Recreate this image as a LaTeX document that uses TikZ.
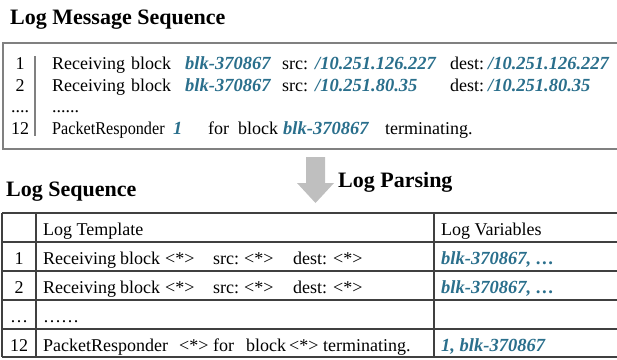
\documentclass[tikz,border=0pt]{standalone}
\usepackage{graphicx}
\usepackage{fontspec}
\setmainfont{Liberation Serif}
\definecolor{varblue}{RGB}{42,111,140}
\definecolor{boxgray}{RGB}{128,128,128}
\definecolor{arrowgray}{RGB}{191,191,191}
\definecolor{linegray}{RGB}{64,64,64}
\newcommand{\bodyfont}{\rmfamily\fontsize{18}{20}\selectfont}
\newcommand{\varfont}{\rmfamily\fontsize{18.5}{20}\selectfont\bfseries\itshape}
\newcommand{\headfont}{\rmfamily\fontsize{22}{24}\selectfont\bfseries}
\tikzset{
  txt/.style={font=\bodyfont,anchor=base west,inner sep=0pt},
  num/.style={font=\bodyfont,anchor=base,inner sep=0pt},
  var/.style={txt,font=\varfont,text=varblue},
  head/.style={font=\headfont,anchor=base west,inner sep=0pt},
}

\begin{document}
\begin{tikzpicture}[x=1pt,y=-1pt]
  \useasboundingbox (0,0) rectangle (617,359);

  % 标题
  \node[head] (title-msg) at (10,24) {Log Message Sequence};
  \node[head] (title-seq) at (6,196) {Log Sequence};
  \node[head] (title-parse) at (338,187) {Log Parsing};

  % 日志消息框 (右边界在图外)
  \draw[boxgray,line width=2.2pt] (617,43) -| (3,149) -- (617,149);
  \draw[boxgray,line width=2.5pt] (35,56) -- (35,136);

  % 日志消息 1, 2
  \foreach \r/\y/\ip in {1/69/126.227, 2/91/80.35} {
    \node[num] (m\r-no) at (20,\y) {\r};
    \node[txt] (m\r-recv) at (52,\y) {Receiving};
    \node[txt] (m\r-blk) at (131,\y) {block};
    \node[var] (m\r-id) at (185,\y) {blk-370867};
    \node[txt] (m\r-src) at (282,\y) {src:};
    \node[var] (m\r-srcip) at (315,\y) {/10.251.\ip};
    \node[txt] (m\r-dest) at (450,\y) {dest:};
    \node[var] (m\r-destip) at (488,\y) {/10.251.\ip};
  }
  \node[num] (m3-no) at (20,112) {....};
  \node[txt] (m3-dots) at (52,112) {......};
  % 日志消息 12
  \node[num] (m4-no) at (20,134) {12};
  \node[txt] (m4-pr) at (52,134) {\scalebox{0.9}[1]{PacketResponder}};
  \node[var] (m4-one) at (173,134) {1};
  \node[txt] (m4-for) at (208,134) {for};
  \node[txt] (m4-blk) at (238,134) {block};
  \node[var] (m4-id) at (283,134) {blk-370867};
  \node[txt] (m4-term) at (385,134) {terminating.};

  % 解析箭头
  \fill[arrowgray] (306,157) -- (325,157) -- (325,183) -- (334,183)
    -- (315.5,203) -- (297,183) -- (306,183) -- cycle;

  % 表格线 (右边界在图外)
  \foreach \y in {213,242,271,300,329,357}
    \draw[linegray,line width=1.3pt] (2,\y) -- (617,\y);
  \foreach \x in {2,36,434}
    \draw[linegray,line width=1.3pt] (\x,213) -- (\x,357);

  % 表头
  \node[txt] (t0-tpl) at (43,235) {Log Template};
  \node[txt] (t0-var) at (441,235) {Log Variables};

  % 模板 1, 2
  \foreach \r/\y in {1/264, 2/293} {
    \node[num] (t\r-no) at (19,\y) {\r};
    \node[txt] (t\r-recv) at (43,\y) {Receiving};
    \node[txt] (t\r-blk) at (120,\y) {block};
    \node[txt] (t\r-s1) at (165,\y) {<*>};
    \node[txt] (t\r-src) at (213,\y) {src:};
    \node[txt] (t\r-s2) at (244,\y) {<*>};
    \node[txt] (t\r-dest) at (293,\y) {dest:};
    \node[txt] (t\r-s3) at (333,\y) {<*>};
    \node[var] (t\r-var) at (441,\y) {blk-370867, …};
  }
  \node[num] (t3-no) at (19,322) {…};
  \node[txt] (t3-tpl) at (43,322) {……};
  % 模板 12
  \node[num] (t4-no) at (19,351) {12};
  \node[txt] (t4-pr) at (43,351) {PacketResponder};
  \node[txt] (t4-s1) at (179,351) {<*>};
  \node[txt] (t4-for) at (213,351) {for};
  \node[txt] (t4-blk) at (246,351) {block};
  \node[txt] (t4-s2) at (289,351) {<*>};
  \node[txt] (t4-term) at (323,351) {terminating.};
  \node[var] (t4-var) at (441,351) {1, blk-370867};
\end{tikzpicture}
\end{document}
